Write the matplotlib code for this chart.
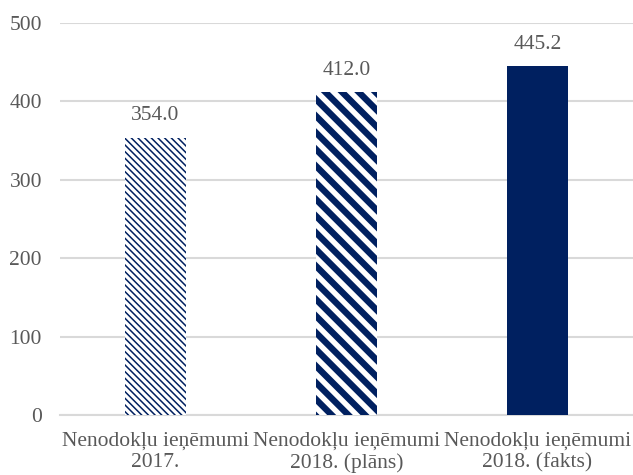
import matplotlib.pyplot as plt
import numpy as np

# data
categories = ["Nenodokļu ieņēmumi\n2017.",
              "Nenodokļu ieņēmumi\n2018. (plāns)",
              "Nenodokļu ieņēmumi\n2018. (fakts)"]
values = [354.0, 412.0, 445.2]
hatches = ["\\\\\\\\\\", "\\\\", None]
hatch_widths = [1.1, 4.6, 1.0]

navy = "#002060"
grey_text = "#595959"
grid_col = "#d9d9d9"

plt.rcParams["font.family"] = ["Liberation Serif", "DejaVu Serif"]

fig = plt.figure(figsize=(6.33, 4.75), dpi=100)
ax = fig.add_axes([0.0948, 0.1253, 0.9052, 0.8263])

x = np.arange(len(categories))
for i in range(len(x)):
    with plt.rc_context({"hatch.linewidth": hatch_widths[i]}):
        if hatches[i] is None:
            b = ax.bar(x[i], values[i], width=0.32, color=navy, linewidth=0, zorder=3)
        else:
            b = ax.bar(x[i], values[i], width=0.32, facecolor="white",
                       edgecolor=navy, hatch=hatches[i], linewidth=0, zorder=3)
        for p in b:
            if hasattr(p, "set_hatch_linewidth"):
                p.set_hatch_linewidth(hatch_widths[i])
    ax.annotate(f"{values[i]:.1f}", (x[i], values[i]), xytext=(0, 9),
                textcoords="offset points", ha="center", va="bottom",
                fontsize=15.5, color=grey_text)

ax.set_xlim(-0.5, 2.5)
ax.set_ylim(0, 500)
ax.set_yticks(range(0, 501, 100))
ax.set_xticks(x)
ax.set_xticklabels(categories, linespacing=1.15)
ax.yaxis.grid(True, color=grid_col, linewidth=1.5, zorder=0)
ax.set_axisbelow(True)
for s in ["top", "right", "left"]:
    ax.spines[s].set_visible(False)
ax.spines["bottom"].set_color(grid_col)
ax.spines["bottom"].set_linewidth(1.5)
ax.tick_params(axis="both", length=0, labelsize=15.5, colors=grey_text)
ax.tick_params(axis="x", pad=12)
ax.tick_params(axis="y", pad=13)

plt.savefig("out.png", dpi=100)
